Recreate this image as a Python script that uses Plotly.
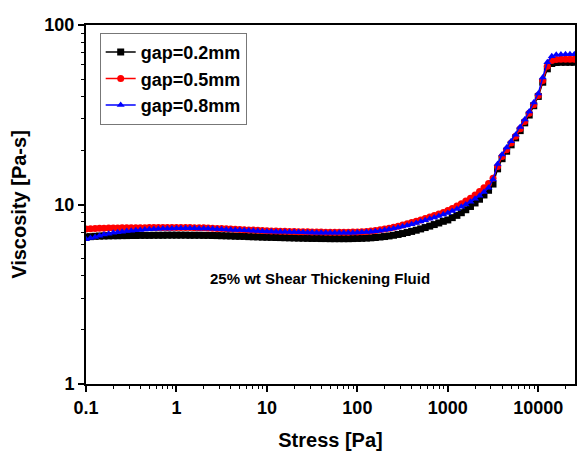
import plotly.graph_objects as go

stress = [
    0.1, 0.112, 0.126, 0.141, 0.158, 0.178, 0.2, 0.224, 0.251, 0.282,
    0.316, 0.355, 0.398, 0.447, 0.501, 0.562, 0.631, 0.708, 0.794, 0.891,
    1.0, 1.12, 1.26, 1.41, 1.58, 1.78, 2.0, 2.24, 2.51, 2.82,
    3.16, 3.55, 3.98, 4.47, 5.01, 5.62, 6.31, 7.08, 7.94, 8.91,
    10.0, 11.2, 12.6, 14.1, 15.8, 17.8, 20.0, 22.4, 25.1, 28.2,
    31.6, 35.5, 39.8, 44.7, 50.1, 56.2, 63.1, 70.8, 79.4, 89.1,
    100.0, 112.0, 126.0, 141.0, 158.0, 178.0, 200.0, 224.0, 251.0, 282.0,
    316.0, 355.0, 398.0, 447.0, 501.0, 562.0, 631.0, 708.0, 794.0, 891.0,
    1000.0, 1120.0, 1260.0, 1410.0, 1580.0, 1780.0, 2000.0, 2240.0, 2510.0, 2820.0,
    3160.0, 3550.0, 3980.0, 4470.0, 5010.0, 5620.0, 6310.0, 7080.0, 7940.0, 8910.0,
    10000.0, 11200.0, 12600.0, 14100.0, 15800.0, 17800.0, 20000.0, 22400.0, 25100.0,
]

visc_02 = [
    6.60, 6.62, 6.65, 6.67, 6.68, 6.69, 6.70, 6.70, 6.71, 6.71,
    6.72, 6.72, 6.73, 6.73, 6.73, 6.74, 6.74, 6.74, 6.75, 6.75,
    6.75, 6.75, 6.75, 6.74, 6.74, 6.74, 6.73, 6.73, 6.72, 6.71,
    6.70, 6.69, 6.68, 6.66, 6.65, 6.64, 6.62, 6.61, 6.60, 6.58,
    6.57, 6.56, 6.55, 6.54, 6.53, 6.52, 6.51, 6.50, 6.49, 6.48,
    6.47, 6.47, 6.46, 6.46, 6.45, 6.45, 6.45, 6.45, 6.45, 6.46,
    6.47, 6.48, 6.50, 6.52, 6.55, 6.59, 6.63, 6.68, 6.74, 6.81,
    6.89, 6.98, 7.08, 7.19, 7.31, 7.44, 7.58, 7.73, 7.89, 8.06,
    8.20, 8.45, 8.70, 9.00, 9.35, 9.75, 10.2, 10.7, 11.3, 12.0,
    13.0, 15.8, 18.0, 19.8, 21.5, 23.5, 25.8, 28.5, 31.5, 35.5,
    40.0, 48.0, 57.0, 61.0, 61.8, 62.0, 62.0, 62.0, 62.0,
]

visc_05 = [
    7.30, 7.33, 7.35, 7.37, 7.38, 7.39, 7.40, 7.40, 7.41, 7.41,
    7.42, 7.42, 7.43, 7.43, 7.44, 7.44, 7.44, 7.45, 7.45, 7.45,
    7.45, 7.45, 7.44, 7.44, 7.43, 7.42, 7.41, 7.40, 7.38, 7.36,
    7.34, 7.32, 7.30, 7.28, 7.26, 7.24, 7.22, 7.20, 7.18, 7.16,
    7.14, 7.12, 7.11, 7.10, 7.09, 7.08, 7.07, 7.06, 7.05, 7.04,
    7.03, 7.02, 7.02, 7.01, 7.01, 7.00, 7.00, 7.00, 7.01, 7.02,
    7.03, 7.05, 7.08, 7.12, 7.17, 7.23, 7.30, 7.38, 7.47, 7.57,
    7.68, 7.80, 7.93, 8.07, 8.21, 8.36, 8.52, 8.68, 8.85, 9.03,
    9.25, 9.50, 9.80, 10.1, 10.45, 10.85, 11.3, 11.8, 12.4, 13.1,
    14.0, 16.3, 18.5, 20.2, 22.0, 24.0, 26.4, 29.0, 32.2, 36.0,
    40.5, 49.0, 59.0, 63.5, 64.3, 64.5, 64.5, 64.5, 64.5,
]

visc_08 = [
    6.40, 6.50, 6.60, 6.70, 6.80, 6.88, 6.95, 7.01, 7.06, 7.11,
    7.15, 7.19, 7.22, 7.25, 7.28, 7.30, 7.32, 7.34, 7.35, 7.36,
    7.37, 7.38, 7.38, 7.38, 7.37, 7.36, 7.35, 7.34, 7.32, 7.30,
    7.28, 7.26, 7.24, 7.22, 7.20, 7.18, 7.16, 7.14, 7.12, 7.10,
    7.08, 7.07, 7.06, 7.05, 7.04, 7.03, 7.02, 7.01, 7.00, 6.99,
    6.98, 6.97, 6.97, 6.96, 6.96, 6.95, 6.95, 6.95, 6.96, 6.97,
    6.98, 7.00, 7.02, 7.05, 7.09, 7.14, 7.20, 7.27, 7.35, 7.44,
    7.54, 7.65, 7.77, 7.90, 8.03, 8.17, 8.32, 8.47, 8.63, 8.80,
    8.98, 9.20, 9.45, 9.70, 10.0, 10.35, 10.75, 11.2, 11.75, 12.4,
    13.8, 16.8, 19.0, 20.8, 22.5, 24.5, 27.0, 29.8, 33.0, 37.0,
    41.5, 51.0, 62.0, 67.0, 68.3, 68.6, 68.7, 68.7, 68.7,
]

assert len(stress) == len(visc_02) == len(visc_05) == len(visc_08)

x_tickvals = [0.1, 1, 10, 100, 1000, 10000]
x_ticktext = ["0.1", "1", "10", "100", "1000", "10000"]
x_minorvals = [m * d for d in [0.1, 1, 10, 100, 1000, 10000] for m in range(2, 10)]
y_tickvals = [1, 10, 100]
y_ticktext = ["1", "10", "100"]
y_minorvals = [m * d for d in [1, 10] for m in range(2, 10)]

series = [
    ("gap=0.2mm", visc_02, "black", "square"),
    ("gap=0.5mm", visc_05, "red", "circle"),
    ("gap=0.8mm", visc_08, "blue", "triangle-up"),
]

fig = go.Figure()
for name, vals, color, sym in series:
    fig.add_trace(go.Scatter(
        x=stress, y=vals, mode="lines+markers", name=name,
        line=dict(color=color, width=1.5),
        marker=dict(color=color, symbol=sym, size=7),
    ))

font_main = "Liberation Sans, Arial, sans-serif"

fig.update_layout(
    width=578, height=452,
    margin=dict(l=86, r=1, t=25, b=68),
    paper_bgcolor="white", plot_bgcolor="white",
    font=dict(family=font_main, color="black"),
    showlegend=True,
    legend=dict(
        x=0.028, y=0.978, xanchor="left", yanchor="top",
        bgcolor="white", bordercolor="#777777", borderwidth=1,
        font=dict(size=18, family=font_main, color="black", weight="bold"),
        tracegroupgap=0,
    ),
    xaxis=dict(
        type="log", range=[-1, 4.406],
        tickmode="array", tickvals=x_tickvals, ticktext=x_ticktext,
        ticks="outside", ticklen=6, tickwidth=1.5, tickcolor="black",
        minor=dict(tickmode="array", tickvals=x_minorvals, ticks="outside",
                   ticklen=3, tickwidth=1.2, tickcolor="black", showgrid=False),
        showline=True, linewidth=2, linecolor="black", mirror=True,
        showgrid=False, zeroline=False,
        tickfont=dict(size=18, family=font_main, weight="bold"),
        title=dict(text="Stress [Pa]", font=dict(size=20, family=font_main, weight="bold"), standoff=16),
    ),
    yaxis=dict(
        type="log", range=[0, 2],
        tickmode="array", tickvals=y_tickvals, ticktext=y_ticktext,
        ticks="outside", ticklen=6, tickwidth=1.5, tickcolor="black",
        minor=dict(tickmode="array", tickvals=y_minorvals, ticks="outside",
                   ticklen=3, tickwidth=1.2, tickcolor="black", showgrid=False),
        showline=True, linewidth=2, linecolor="black", mirror=True,
        showgrid=False, zeroline=False,
        tickfont=dict(size=18, family=font_main, weight="bold"),
        title=dict(text="Viscosity [Pa-s]", font=dict(size=20, family=font_main, weight="bold"), standoff=12),
    ),
    annotations=[dict(
        x=0.479, y=0.265, xref="paper", yref="paper",
        text="25% wt Shear Thickening Fluid", showarrow=False,
        font=dict(size=15, family=font_main, color="black", weight="bold"),
    )],
)

fig.write_html("out.html")
